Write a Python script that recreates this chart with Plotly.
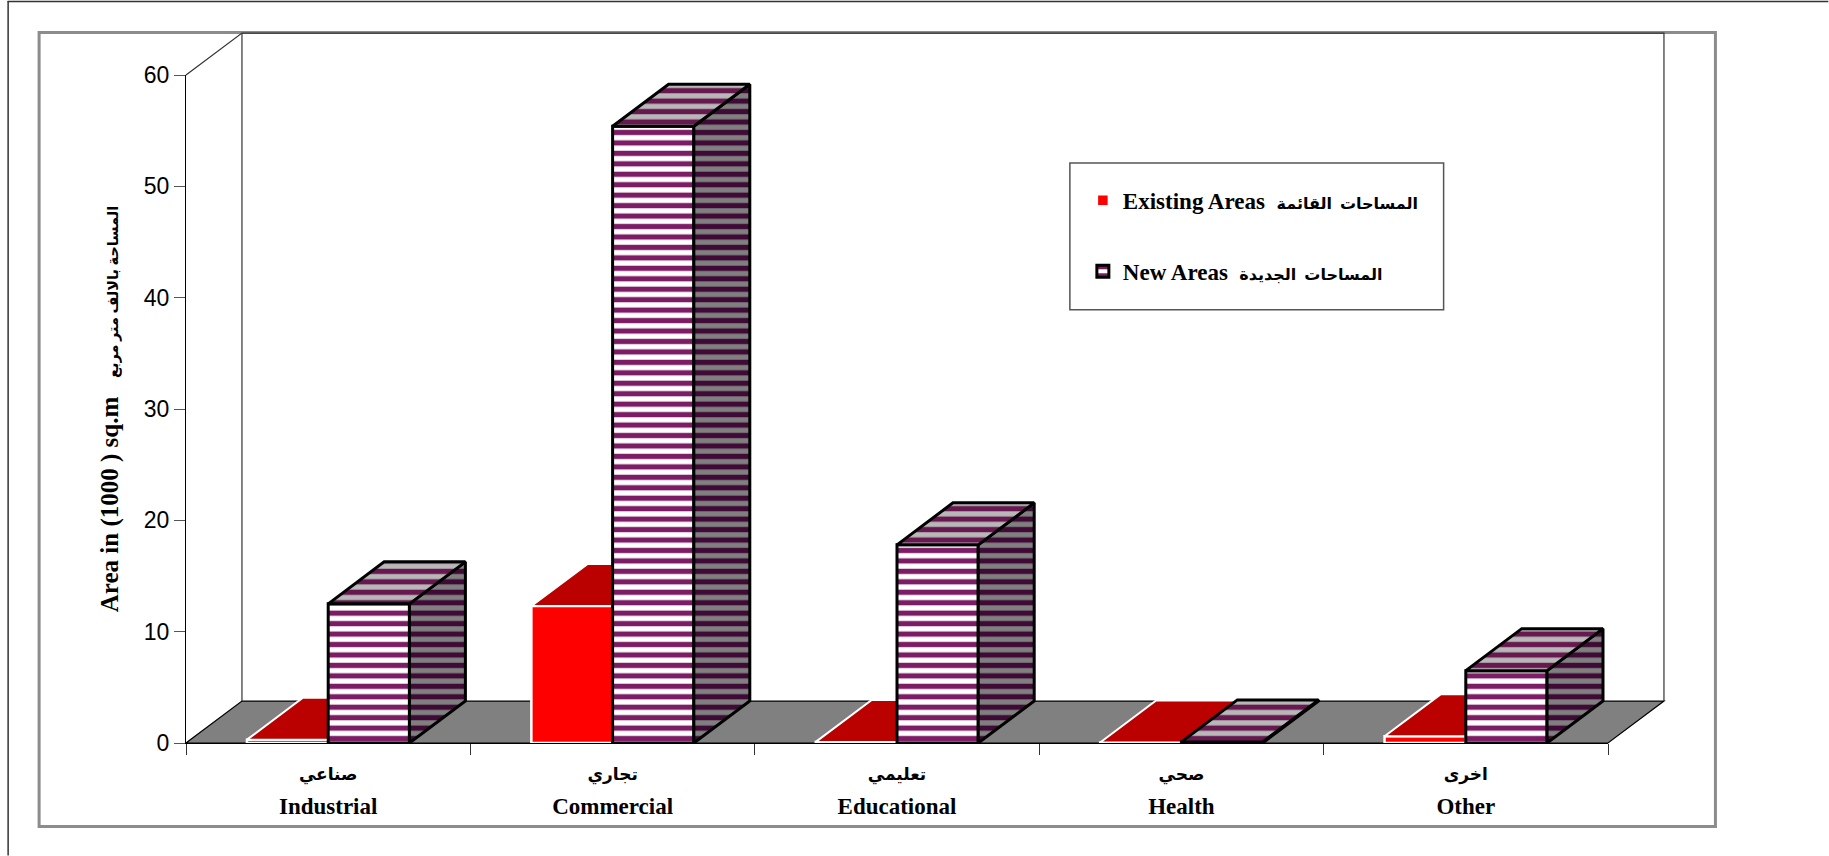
import plotly.graph_objects as go

# ---------- data ----------
categories_ar = ["صناعي", "تجاري", "تعليمي", "صحي", "اخرى"]
categories_en = ["Industrial", "Commercial", "Educational", "Health", "Other"]
existing_areas = [0.3, 12.3, 0.1, 0.05, 0.6]
new_areas = [12.5, 55.4, 17.8, 0.1, 6.5]
y_ticks = [0, 10, 20, 30, 40, 50, 60]
name_existing_en, name_existing_ar = "Existing Areas", "المساحات  القائمة"
name_new_en, name_new_ar = "New Areas", "المساحات  الجديدة"
y_title_en, y_title_ar = "Area in (1000 ) sq.m", "المساحة بالالف متر مربع"

# ---------- layout constants ----------
W, H = 1829, 856
L, R, T, B = 185.5, 1608.5, 75.0, 743.5
SX = (R - L) / 5
SY = (B - T) / 60
DX = 56 / SX      # depth of the 3D projection, in x units
DY = 42 / SY      # in y units
BW = 81.3 / SX    # bar width in x units
SERIF = "'Liberation Serif', 'DejaVu Sans', serif"
SANS = "'Liberation Sans', Arial, sans-serif"
PURPLE, PURPLE_TOP, PURPLE_SIDE = "#7b1c64", "#66184f", "#3f0a35"
STRIPE = 10.45


def fx(px):
    return (px - L) / (R - L)


def fy(py):
    return (B - py) / (B - T)


def rect(x0, y0, x1, y1, **kw):
    return dict(type="rect", xref="paper", yref="paper", x0=fx(x0), x1=fx(x1),
                y0=fy(y0), y1=fy(y1), **kw)


def poly(points, **kw):
    d = "M" + "L".join(f"{x / 5},{y / 60}" for x, y in points) + "Z"
    return dict(type="path", xref="paper", yref="paper", path=d, **kw)


def open_path(points, **kw):
    d = "M" + "L".join(f"{x / 5},{y / 60}" for x, y in points)
    return dict(type="path", xref="paper", yref="paper", path=d, **kw)


def legend_name(en, ar):
    return f"{en}  <span style='font-size:16px'>{ar}</span>"


centers = [i + 0.5 for i in range(len(categories_en))]
fig = go.Figure()

# existing areas: front face + top face on the base axes
fig.add_trace(go.Bar(
    x=[c - BW / 2 for c in centers], y=existing_areas, width=BW,
    name=legend_name(name_existing_en, name_existing_ar), legendgroup="existing",
    marker=dict(color="#ff0000", line=dict(color="white", width=2.5)),
))
for c, v in zip(centers, existing_areas):
    fig.add_trace(go.Scatter(
        x=[c - BW, c, c + DX, c - BW + DX, c - BW],
        y=[v, v, v + DY, v + DY, v],
        mode="lines", fill="toself", fillcolor="#bb0000",
        line=dict(color="white", width=2), showlegend=False, hoverinfo="skip",
    ))

# new areas on an overlaying pair of axes so they sit in front of the red bars
fig.add_trace(go.Bar(
    x=[c + BW / 2 for c in centers], y=new_areas, width=BW,
    name=legend_name(name_new_en, name_new_ar), legendgroup="new", xaxis="x2", yaxis="y2",
    marker=dict(color="white", line=dict(color="black", width=3),
                pattern=dict(shape="-", size=STRIPE, solidity=0.5,
                             fgcolor=PURPLE, bgcolor="white", fgopacity=1)),
))
for c, v in zip(centers, new_areas):
    fig.add_trace(go.Scatter(
        x=[c + BW, c + BW + DX, c + BW + DX, c + BW, c + BW],
        y=[0, DY, v + DY, v, 0],
        mode="lines", fill="toself", xaxis="x2", yaxis="y2",
        fillpattern=dict(shape="-", size=STRIPE, solidity=0.5,
                         fgcolor=PURPLE_SIDE, bgcolor="#808080", fgopacity=1),
        line=dict(color="black", width=3), showlegend=False, hoverinfo="skip",
    ))
    fig.add_trace(go.Scatter(
        x=[c, c + BW, c + BW + DX, c + DX, c],
        y=[v, v, v + DY, v + DY, v],
        mode="lines", fill="toself", xaxis="x2", yaxis="y2",
        fillpattern=dict(shape="-", size=STRIPE, solidity=0.5,
                         fgcolor=PURPLE_TOP, bgcolor="#b8b8b8", fgopacity=1),
        line=dict(color="black", width=3), showlegend=False, hoverinfo="skip",
    ))

shapes = [
    # page edge lines
    dict(type="line", xref="paper", yref="paper", x0=fx(7), x1=fx(W), y0=fy(1.5), y1=fy(1.5),
         line=dict(color="#333333", width=1.5)),
    dict(type="line", xref="paper", yref="paper", x0=fx(7.5), x1=fx(7.5), y0=fy(1), y1=fy(H),
         line=dict(color="#333333", width=1.5)),
    # chart frame
    rect(38.5, 32.5, 1716, 827, line=dict(color="#8c8c8c", width=3), layer="below"),
    # floor
    poly([(0, 0), (5, 0), (5 + DX, DY), (DX, DY)], fillcolor="#808080",
         line=dict(color="black", width=1.2), layer="below"),
    # walls
    open_path([(0, 60), (DX, 60 + DY), (5 + DX, 60 + DY), (5 + DX, DY)],
              line=dict(color="#333333", width=1.2), layer="below"),
    open_path([(DX, 60 + DY), (DX, DY)], line=dict(color="#333333", width=1.2), layer="below"),
    # legend box
    rect(1070, 163, 1444, 310, fillcolor="white", line=dict(color="#555555", width=1.5), layer="below"),
]

fig.update_layout(
    width=W, height=H,
    margin=dict(l=L, r=W - R, t=T, b=H - B, pad=0),
    paper_bgcolor="white", plot_bgcolor="rgba(0,0,0,0)",
    barmode="overlay",
    font=dict(family=SERIF, size=23, color="black"),
    shapes=shapes,
    xaxis=dict(
        range=[0, 5], showgrid=False, zeroline=False, showline=True,
        linecolor="black", linewidth=1.2,
        tickmode="array", tickvals=centers,
        ticktext=[f"<b><span style='font-size:17px'>{a}</span></b><br>"
                  f"<b><span style='font-size:23px'>{e}</span></b>"
                  for a, e in zip(categories_ar, categories_en)],
        ticks="", ticklabelstandoff=5,
        tickfont=dict(family=SERIF, size=26, color="black"),
        minor=dict(tickmode="array", tickvals=list(range(6)), ticks="outside",
                   ticklen=11, tickcolor="#333333", tickwidth=1.2, showgrid=False),
    ),
    yaxis=dict(
        range=[0, 60], showgrid=False, zeroline=False, showline=True,
        linecolor="black", linewidth=1.2,
        tickmode="array", tickvals=y_ticks, ticks="outside", ticklen=11,
        tickcolor="#555555", tickwidth=1.2,
        tickfont=dict(family=SANS, size=23, color="black"),
        title=dict(text=f"<b>{y_title_en}   <span style='font-size:14.5px'>{y_title_ar}</span></b>",
                   standoff=17, font=dict(family=SERIF, size=25, color="black")),
    ),
    xaxis2=dict(range=[0, 5], overlaying="x", visible=False, matches=None),
    yaxis2=dict(range=[0, 60], overlaying="y", visible=False),
    legend=dict(
        x=fx(1083), y=fy(179), xanchor="left", yanchor="top",
        bgcolor="rgba(0,0,0,0)", borderwidth=0,
        font=dict(family=SERIF, size=23, color="black", weight="bold"),
        tracegroupgap=38, itemclick=False, itemdoubleclick=False,
    ),
    showlegend=True,
)

fig.write_html("out.html", config={"displayModeBar": False},
               post_script="document.body.style.margin='0';document.body.style.overflow='hidden';")
